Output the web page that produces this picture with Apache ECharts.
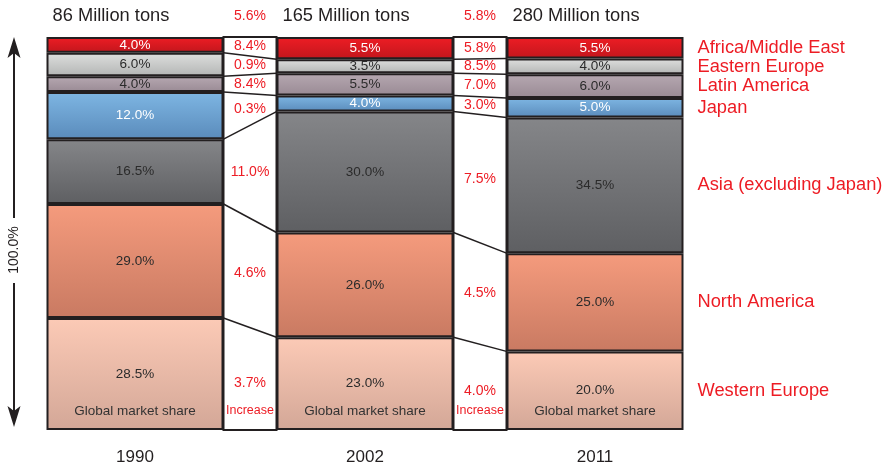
<!DOCTYPE html>
<html>
<head>
<meta charset="utf-8">
<script src="https://cdn.jsdelivr.net/npm/echarts@6/dist/echarts.min.js"></script>
<style>
  html, body { margin: 0; padding: 0; background: #fff; }
  #chart { width: 886px; height: 468px; }
</style>
</head>
<body>
<div id="chart"></div>
<script>
// Years shown as columns
const years = ['1990', '2002', '2011'];
// Regions, stacked from the bottom up
const regions = ['Western Europe', 'North America', 'Asia (excluding Japan)', 'Japan',
                 'Latin America', 'Eastern Europe', 'Africa/Middle East'];
// Global market share (%) per region, bottom-up
const share1990 = [28.5, 29.0, 16.5, 12.0, 4.0, 6.0, 4.0];
const share2002 = [23.0, 26.0, 30.0, 4.0, 5.5, 3.5, 5.5];
const share2011 = [20.0, 25.0, 34.5, 5.0, 6.0, 4.0, 5.5];
// Total market volume (million tons)
const totals = [86, 165, 280];
// Annual increase per region between columns, bottom-up
const growth1990to2002 = [3.7, 4.6, 11.0, 0.3, 8.4, 0.9, 8.4];
const growth2002to2011 = [4.0, 4.5, 7.5, 3.0, 7.0, 8.5, 5.8];
// Annual increase of the whole market between columns
const totalGrowth = [5.6, 5.8];

const shares = [share1990, share2002, share2011];
const growths = [growth1990to2002, growth2002to2011];

const BAR_W = 177;
const INK = '#231f20';
const RED = '#ed1c24';
const FONT = 'Liberation Sans, Arial, Helvetica, sans-serif';

const palette = [
  ['#fccab6', '#d3a797'],
  ['#f59b7d', '#c97a62'],
  ['#858689', '#5e5f62'],
  ['#7eb6e3', '#5a8bbb'],
  ['#b6a8b1', '#998a94'],
  ['#dedfde', '#b3b5b4'],
  ['#ee1d25', '#c2161c']
];
const labelColors = ['#2b2b2b', '#2b2b2b', '#2b2b2b', '#ffffff', '#2b2b2b', '#2b2b2b', '#ffffff'];

// Each column is scaled to its own total so it spans the full 100% height
const colTotals = shares.map(s => s.reduce((a, b) => a + b, 0));
const normalized = shares.map((s, c) => s.map(v => v / colTotals[c] * 100));
// Cumulative top of every segment, per column
const tops = normalized.map(s => { let acc = 0; return s.map(v => (acc += v)); });

const barSeries = regions.map((name, k) => ({
  name,
  type: 'bar',
  stack: 'share',
  barWidth: BAR_W,
  data: shares.map((s, c) => ({ value: normalized[c][k], raw: s[k] })),
  itemStyle: {
    color: { type: 'linear', x: 0, y: 0, x2: 0, y2: 1,
      colorStops: [{ offset: 0, color: palette[k][0] }, { offset: 1, color: palette[k][1] }] },
    borderColor: INK,
    borderWidth: 2
  },
  label: {
    show: true,
    position: 'inside',
    formatter: p => p.data.raw.toFixed(1) + '%',
    color: labelColors[k],
    fontFamily: FONT,
    fontSize: 13.5
  },
  emphasis: { disabled: true }
}));

// White connector bands between columns, with lines joining segment edges
function renderGap(params, api) {
  const g = params.dataIndex;
  const base0 = api.coord([g, 0]);
  const base1 = api.coord([g + 1, 0]);
  const x0 = base0[0] + BAR_W / 2;
  const x1 = base1[0] - BAR_W / 2;
  const yTop = api.coord([g, 100])[1];
  const yBot = base0[1];
  const y = v => api.coord([g, v])[1];
  const children = [{
    type: 'rect',
    shape: { x: x0, y: yTop, width: x1 - x0, height: yBot - yTop },
    style: { fill: '#fff', stroke: INK, lineWidth: 2 }
  }];
  const a = tops[g], b = tops[g + 1];
  for (let k = 0; k < a.length - 1; k++) {
    children.push({
      type: 'line',
      shape: { x1: x0, y1: y(a[k]), x2: x1, y2: y(b[k]) },
      style: { stroke: INK, lineWidth: 1.5 }
    });
  }
  const xm = (x0 + x1) / 2;
  for (let k = 0; k < a.length; k++) {
    const loA = k === 0 ? 0 : a[k - 1], loB = k === 0 ? 0 : b[k - 1];
    const ym = (y(loA) + y(a[k]) + y(loB) + y(b[k])) / 4;
    children.push({
      type: 'text',
      style: { text: growths[g][k].toFixed(1) + '%', x: xm, y: ym + (k === 0 ? 4 : 0),
        align: 'center', verticalAlign: 'middle', fill: RED, font: '14px ' + FONT }
    });
  }
  children.push({
    type: 'text',
    style: { text: 'Increase', x: xm, y: yBot - 19, align: 'center', verticalAlign: 'middle',
      fill: RED, font: '12.5px ' + FONT }
  });
  children.push({
    type: 'text',
    style: { text: totalGrowth[g].toFixed(1) + '%', x: xm, y: yTop - 21, align: 'center',
      verticalAlign: 'middle', fill: RED, font: '14px ' + FONT }
  });
  return { type: 'group', children };
}

// Per-column annotations: volume heading, share caption, and region names on the right
function renderColumn(params, api) {
  const c = params.dataIndex;
  const base = api.coord([c, 0]);
  const xc = base[0];
  const yBot = base[1];
  const yTop = api.coord([c, 100])[1];
  const y = v => api.coord([c, v])[1];
  const children = [{
    type: 'text',
    style: { text: totals[c] + ' Million tons', x: xc - BAR_W / 2 + 6, y: yTop - 21,
      align: 'left', verticalAlign: 'middle', fill: INK, font: '18.3px ' + FONT }
  }, {
    type: 'text',
    style: { text: 'Global market share', x: xc, y: yBot - 19, align: 'center',
      verticalAlign: 'middle', fill: '#333', font: '13.5px ' + FONT }
  }];
  if (c === years.length - 1) {
    const t = tops[c];
    for (let k = 0; k < t.length; k++) {
      const lo = k === 0 ? 0 : t[k - 1];
      children.push({
        type: 'text',
        style: { text: regions[k], x: xc + BAR_W / 2 + 14, y: (y(lo) + y(t[k])) / 2,
          align: 'left', verticalAlign: 'middle', fill: RED, font: '18.3px ' + FONT }
      });
    }
  }
  return { type: 'group', children };
}

const chart = echarts.init(document.getElementById('chart'), null, { renderer: 'canvas' });
chart.setOption({
  animation: false,
  backgroundColor: '#fff',
  grid: { left: 20, right: 176, top: 37, bottom: 38 },
  xAxis: {
    type: 'category',
    data: years,
    axisLine: { show: false },
    axisTick: { show: false },
    axisLabel: { color: INK, fontSize: 17, fontFamily: FONT, margin: 19 }
  },
  yAxis: { type: 'value', min: 0, max: 100, show: false },
  series: [
    ...barSeries,
    {
      type: 'custom',
      renderItem: renderGap,
      data: [[0, 0], [1, 0]],
      encode: { x: 0, y: 1 },
      z: 3,
      silent: true
    },
    {
      type: 'custom',
      renderItem: renderColumn,
      data: [[0, 0], [1, 0], [2, 0]],
      encode: { x: 0, y: 1 },
      z: 4,
      silent: true,
      clip: false
    }
  ],
  graphic: [
    { type: 'line', shape: { x1: 14, y1: 50, x2: 14, y2: 218 }, style: { stroke: INK, lineWidth: 2 } },
    { type: 'line', shape: { x1: 14, y1: 283, x2: 14, y2: 412 }, style: { stroke: INK, lineWidth: 2 } },
    { type: 'polygon', shape: { points: [[14, 37], [20.5, 58], [14, 53], [7.5, 58]] }, style: { fill: INK } },
    { type: 'polygon', shape: { points: [[14, 427], [20.5, 406], [14, 411], [7.5, 406]] }, style: { fill: INK } },
    {
      type: 'text', x: 14, y: 250, rotation: Math.PI / 2,
      style: { text: '100.0%', align: 'center', verticalAlign: 'middle', fill: INK, font: '14px ' + FONT }
    }
  ]
});
</script>
</body>
</html>
